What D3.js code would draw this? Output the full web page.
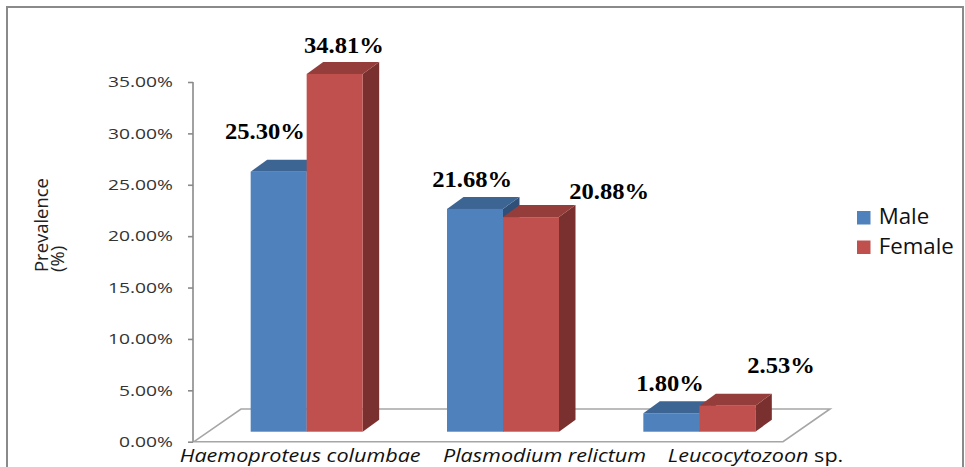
<!DOCTYPE html>
<html><head><meta charset="utf-8">
<script src="https://cdn.jsdelivr.net/npm/d3@7"></script>
<style>body{margin:0;background:#fff}svg{display:block}
.val{font-family:"Liberation Serif",Tinos,"Times New Roman",serif;font-weight:700}</style>
</head><body><svg id="c" width="965" height="467"></svg>
<script>
// ---- data ----
const categories = ["Haemoproteus columbae", "Plasmodium relictum", "Leucocytozoon sp."];
const seriesNames = ["Male", "Female"];
const maleValues = [25.30, 21.68, 1.80];
const femaleValues = [34.81, 20.88, 2.53];
const yTicks = [0, 5, 10, 15, 20, 25, 30, 35];
const yTitle = ["Prevalence", "(%)"];

// ---- layout ----
const colors = {
  Male:   {front: "#4F81BD", top: "#3D6593", side: "#2F5078"},
  Female: {front: "#C0504D", top: "#943D3A", side: "#7A302E"}
};
const floorDepth = {dx: 47, dy: -32.7};
const barOffset = {dx: 14.5, dy: -10};
const barDepth = {dx: 16.5, dy: -12};
const barW = 56;
const labelNudge = {
  Male:   [[-22, -12], [-11, -1], [-9.5, -1.5]],
  Female: [[1, 0], [70, 3], [45.5, -11.5]]
};
const catLabelShift = [8, 56, 70.7];

const svg = d3.select("#c");
const y = d3.scaleLinear().domain([0, 35]).range([441.7, 82]);
const x = d3.scaleBand().domain(categories).range([194, 783]);
const series = [
  {name: seriesNames[0], values: maleValues},
  {name: seriesNames[1], values: femaleValues}
];

// frame
svg.append("rect").attr("x", 7).attr("y", 7).attr("width", 956).attr("height", 480)
  .attr("fill", "none").attr("stroke", "#8a8a8a").attr("stroke-width", 2);

// floor
const fx0 = x.range()[0], fx1 = x.range()[1], fy = y(0);
svg.append("path")
  .attr("d", `M${fx0},${fy}L${fx1},${fy}L${fx1 + floorDepth.dx},${fy + floorDepth.dy}L${fx0 + floorDepth.dx},${fy + floorDepth.dy}Z`)
  .attr("fill", "none").attr("stroke", "#a6a6a6").attr("stroke-width", 1.6);

// y axis
const axis = d3.axisLeft(y).tickValues(yTicks).tickSize(5).tickFormat(d => d.toFixed(2) + "%");
const gAxis = svg.append("g").attr("transform", "translate(193,0)").call(axis);
gAxis.select(".domain").attr("stroke", "#8a8a8a").attr("stroke-width", 1.6).attr("d", `M0,${y(0)}V${y(35)}`);
gAxis.selectAll(".tick line").attr("stroke", "#8a8a8a").attr("stroke-width", 1.6);
gAxis.selectAll(".tick text").remove();

// tick labels (stretched)
const tickG = svg.append("g");
const tickTexts = tickG.selectAll("g").data(yTicks).join("g")
  .attr("transform", d => `translate(173,${y(d) + 5})`);
const tt = tickTexts.append("text").attr("text-anchor", "end")
  .attr("font-family", "'Open Sans', sans-serif").attr("font-size", 15).attr("fill", "#333")
  .text(d => d.toFixed(2) + "%");
const kTick = 65 / tt.filter(d => d === 35).node().getComputedTextLength();
tickTexts.attr("transform", d => `translate(173,${y(d) + 5.2}) scale(${kTick},1)`);

// bars
const bw = x.bandwidth();
categories.forEach((cat, i) => {
  const center = x(cat) + bw / 2 + barOffset.dx;
  series.forEach((s, j) => {
    const v = s.values[i];
    const x0 = center + (j - 1) * barW, x1 = x0 + barW;
    const t = y(v) + barOffset.dy, b = y(0) + barOffset.dy;
    const c = colors[s.name];
    const g = svg.append("g");
    g.append("path").attr("d", `M${x1},${t}L${x1 + barDepth.dx},${t + barDepth.dy}L${x1 + barDepth.dx},${b + barDepth.dy}L${x1},${b}Z`).attr("fill", c.side);
    g.append("path").attr("d", `M${x0},${t}L${x1},${t}L${x1 + barDepth.dx},${t + barDepth.dy}L${x0 + barDepth.dx},${t + barDepth.dy}Z`).attr("fill", c.top);
    g.append("rect").attr("x", x0).attr("y", t).attr("width", barW).attr("height", b - t).attr("fill", c.front);
  });
});

// value labels
const valG = svg.append("g");
const valItems = [];
categories.forEach((cat, i) => {
  const center = x(cat) + bw / 2 + barOffset.dx;
  series.forEach((s, j) => {
    const v = s.values[i];
    const cx = center + (j - 0.5) * barW + barDepth.dx / 2 + labelNudge[s.name][i][0];
    const by = y(v) + barOffset.dy + barDepth.dy - 9 + labelNudge[s.name][i][1];
    valItems.push({v, cx, by});
  });
});
const vg = valG.selectAll("g").data(valItems).join("g").attr("transform", d => `translate(${d.cx},${d.by})`);
const vt = vg.append("text").attr("class", "val").attr("text-anchor", "middle")
  .attr("font-size", 23.5).attr("fill", "#000")
  .text(d => d.v.toFixed(2) + "%");
const kVal = 80 / vt.filter(d => d.v === 34.81).node().getComputedTextLength();
vg.attr("transform", d => `translate(${d.cx},${d.by}) scale(${kVal},1)`);

// category labels
const catG = svg.selectAll("g.cat").data(categories).join("g").attr("class", "cat");
const ct = catG.append("text").attr("text-anchor", "middle")
  .attr("font-family", "'Open Sans', sans-serif").attr("font-size", 18.5).attr("fill", "#111");
ct.each(function(d) {
  const t = d3.select(this);
  if (d.endsWith(" sp.")) {
    t.append("tspan").attr("font-style", "italic").text(d.slice(0, -4));
    t.append("tspan").text(" sp.");
  } else {
    t.append("tspan").attr("font-style", "italic").text(d);
  }
});
const kCat = 241 / ct.filter((d, i) => i === 0).node().getComputedTextLength();
catG.attr("transform", (d, i) => `translate(${x(d) + bw / 2 + catLabelShift[i]},461.5) scale(${kCat},1)`);

// y title
const titG = svg.selectAll("g.ytitle").data(yTitle).join("g").attr("class", "ytitle");
const tit = titG.append("text").attr("text-anchor", "start")
  .attr("font-family", "'Open Sans', sans-serif").attr("font-size", 19).attr("fill", "#222").text(d => d);
const kTit = 94 / tit.filter((d, i) => i === 0).node().getComputedTextLength();
titG.attr("transform", (d, i) => `translate(${i === 0 ? 47.5 : 64},272) rotate(-90) scale(${kTit},1)`);

// legend
const leg = svg.selectAll("g.leg").data(seriesNames).join("g").attr("class", "leg")
  .attr("transform", (d, i) => `translate(857,${211 + i * 29.5})`);
leg.append("rect").attr("width", 13.5).attr("height", 13.5).attr("fill", d => colors[d].front);
const lt = leg.append("text").attr("x", 21.7).attr("y", 13.3)
  .attr("font-family", "'Open Sans', sans-serif").attr("font-size", 21).attr("fill", "#111").text(d => d);
const kLeg = 50.6 / lt.filter(d => d === "Male").node().getComputedTextLength();
lt.attr("transform", `translate(21.7,0) scale(${kLeg},1) translate(-21.7,0)`);
</script></body></html>
